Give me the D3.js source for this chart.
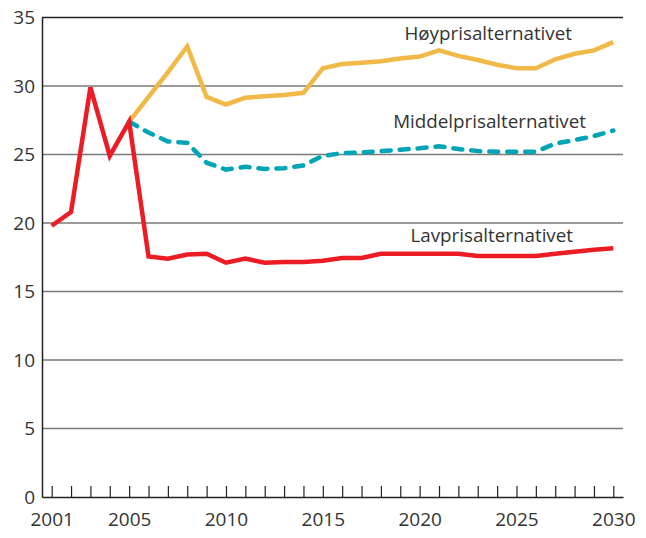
<!DOCTYPE html>
<html><head><meta charset="utf-8">
<script src="https://cdn.jsdelivr.net/npm/d3@7"></script>
<style>html,body{margin:0;padding:0;background:#fff;}svg{display:block;}</style>
</head><body>
<svg id="c" width="646" height="538"></svg>
<script>
const years = d3.range(2001, 2031);
const lavpris = [19.8,20.8,29.9,24.9,27.4,17.55,17.4,17.7,17.75,17.1,17.4,17.1,17.15,17.15,17.25,17.45,17.45,17.75,17.75,17.75,17.75,17.75,17.6,17.6,17.6,17.6,17.75,17.9,18.05,18.15];
const hoyYears = d3.range(2005, 2031);
const hoypris = [27.4,29.2,31.0,32.9,29.2,28.65,29.15,29.25,29.35,29.5,31.3,31.6,31.7,31.8,32.0,32.15,32.6,32.2,31.9,31.55,31.3,31.3,31.95,32.35,32.6,33.2];
const middelpris = [27.4,26.6,25.95,25.85,24.4,23.9,24.1,23.95,24.0,24.2,24.9,25.1,25.15,25.25,25.35,25.45,25.6,25.4,25.25,25.2,25.2,25.2,25.8,26.05,26.35,26.75];
const yTicks = [0,5,10,15,20,25,30,35];
const xTickLabels = [2001,2005,2010,2015,2020,2025,2030];
const seriesLabels = ["Høyprisalternativet","Middelprisalternativet","Lavprisalternativet"];

const svg = d3.select("#c");
const L = 42, R = 623, T = 17.5, B = 497;
const x = d3.scaleLinear().domain([2000.5, 2030.5]).range([L, R]);
const y = d3.scaleLinear().domain([0, 35]).range([B, T]);
const font = "'Open Sans', 'Noto Sans', sans-serif";
const txt = "#333";

// gridlines
svg.append("g").selectAll("line").data(yTicks.filter(v => v > 0 && v < 35)).join("line")
  .attr("x1", L).attr("x2", R).attr("y1", d => y(d)).attr("y2", d => y(d))
  .attr("stroke", "#7a7a7a").attr("stroke-width", 1.5);
// top line
svg.append("line").attr("x1", L).attr("x2", R).attr("y1", y(35)).attr("y2", y(35))
  .attr("stroke", "#222").attr("stroke-width", 1.5);

// y axis
const yAxis = d3.axisLeft(y).tickValues(yTicks).tickSize(0).tickPadding(7);
const gy = svg.append("g").attr("transform", `translate(${L},0)`).call(yAxis);
gy.select(".domain").attr("stroke", "#222").attr("stroke-width", 1.5);
gy.selectAll("text").attr("font-family", font).attr("font-size", 19).attr("fill", txt);

// x axis with inward ticks
const xAxis = d3.axisBottom(x).tickValues(years).tickSize(-11).tickSizeOuter(0).tickPadding(16)
  .tickFormat(d => xTickLabels.includes(d) ? d : "");
const gx = svg.append("g").attr("transform", `translate(0,${B})`).call(xAxis);
gx.select(".domain").attr("stroke", "#222").attr("stroke-width", 1.5);
gx.selectAll(".tick line").attr("stroke", "#222").attr("stroke-width", 1.2);
gx.selectAll("text").attr("font-family", font).attr("font-size", 19).attr("fill", txt);

const line = d3.line().x(d => x(d[0])).y(d => y(d[1]));
const dataH = hoyYears.map((yr, i) => [yr, hoypris[i]]);
const dataM = hoyYears.map((yr, i) => [yr, middelpris[i]]);
const dataL = years.map((yr, i) => [yr, lavpris[i]]);

svg.append("path").datum(dataH).attr("d", line).attr("fill", "none")
  .attr("stroke", "#f0b948").attr("stroke-width", 4.5).attr("stroke-linejoin", "miter");
svg.append("path").datum(dataM).attr("d", line).attr("fill", "none")
  .attr("stroke", "#00a5b5").attr("stroke-width", 4.5).attr("stroke-linecap", "round")
  .attr("stroke-dasharray", "9,9");
svg.append("path").datum(dataL).attr("d", line).attr("fill", "none")
  .attr("stroke", "#ec1c24").attr("stroke-width", 4.5).attr("stroke-linejoin", "miter");

// labels
const labelPos = [[572, 40], [586, 128], [573, 242]];
svg.append("g").selectAll("text").data(seriesLabels).join("text")
  .attr("x", (d, i) => labelPos[i][0]).attr("y", (d, i) => labelPos[i][1])
  .attr("text-anchor", "end").attr("font-family", font).attr("font-size", 18.8)
  .attr("fill", txt).text(d => d);
</script>
</body></html>
